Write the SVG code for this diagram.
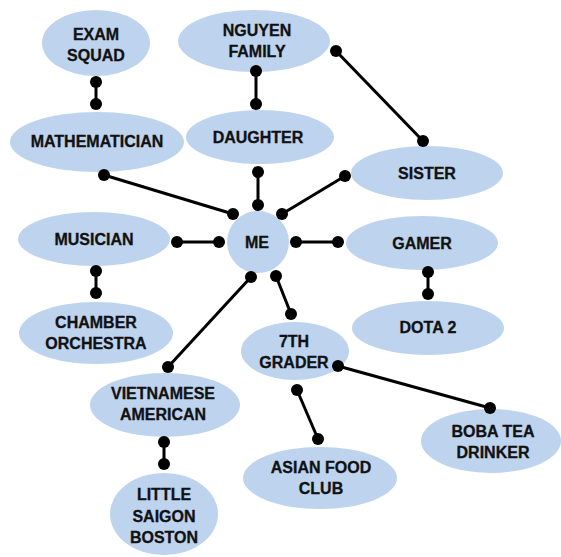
<svg xmlns="http://www.w3.org/2000/svg" width="561" height="557" viewBox="0 0 561 557">
<style>
.n{fill:#bdd3ee}
.t{font-family:"Liberation Sans",Arial,sans-serif;font-weight:bold;font-size:16px;fill:#111;stroke:#111;stroke-width:0.3;text-anchor:middle;dominant-baseline:central}
.c line{stroke:#000;stroke-width:3}
.c circle{fill:#000}
</style>
<rect width="561" height="557" fill="#fff"/>
<g id="exam-squad"><ellipse class="n" cx="96" cy="43" rx="54" ry="33"/><text class="t" x="96" y="34">EXAM</text><text class="t" x="96" y="55">SQUAD</text></g>
<g id="nguyen-family"><ellipse class="n" cx="254" cy="41" rx="76" ry="31"/><text class="t" x="257" y="30">NGUYEN</text><text class="t" x="257" y="51">FAMILY</text></g>
<g id="mathematician"><ellipse class="n" cx="97" cy="142" rx="87" ry="30"/><text class="t" x="97" y="141">MATHEMATICIAN</text></g>
<g id="daughter"><ellipse class="n" cx="260" cy="137" rx="74" ry="27"/><text class="t" x="258" y="137">DAUGHTER</text></g>
<g id="sister"><ellipse class="n" cx="427" cy="173" rx="76" ry="27"/><text class="t" x="427" y="173">SISTER</text></g>
<g id="me"><circle class="n" cx="258" cy="242" r="31"/><text class="t" x="257" y="242">ME</text></g>
<g id="musician"><ellipse class="n" cx="94" cy="239" rx="76" ry="27"/><text class="t" x="94" y="239">MUSICIAN</text></g>
<g id="chamber-orchestra"><ellipse class="n" cx="96" cy="333" rx="77" ry="31"/><text class="t" x="96" y="322">CHAMBER</text><text class="t" x="96" y="343">ORCHESTRA</text></g>
<g id="gamer"><ellipse class="n" cx="422" cy="243" rx="76" ry="27"/><text class="t" x="422" y="243">GAMER</text></g>
<g id="dota-2"><ellipse class="n" cx="428" cy="328" rx="76" ry="27"/><text class="t" x="428" y="327">DOTA 2</text></g>
<g id="seventh-grader"><ellipse class="n" cx="295" cy="351" rx="54" ry="29"/><text class="t" x="294" y="341">7TH</text><text class="t" x="294" y="362">GRADER</text></g>
<g id="vietnamese-american"><ellipse class="n" cx="165" cy="405" rx="75" ry="32"/><text class="t" x="163" y="393">VIETNAMESE</text><text class="t" x="163" y="414">AMERICAN</text></g>
<g id="little-saigon-boston"><ellipse class="n" cx="164" cy="514" rx="54" ry="41"/><text class="t" x="164" y="494">LITTLE</text><text class="t" x="164" y="516">SAIGON</text><text class="t" x="164" y="537">BOSTON</text></g>
<g id="asian-food-club"><ellipse class="n" cx="320" cy="478" rx="77" ry="31"/><text class="t" x="321" y="467">ASIAN FOOD</text><text class="t" x="321" y="488">CLUB</text></g>
<g id="boba-tea-drinker"><ellipse class="n" cx="491" cy="441" rx="70" ry="32"/><text class="t" x="493" y="431">BOBA TEA</text><text class="t" x="493" y="452">DRINKER</text></g>
<g id="connectors" class="c">
<line x1="96" y1="82" x2="96" y2="104"/><circle cx="96" cy="82" r="6"/><circle cx="96" cy="104" r="6"/>
<line x1="256" y1="71" x2="256" y2="104"/><circle cx="256" cy="71" r="6"/><circle cx="256" cy="104" r="6"/>
<line x1="336" y1="51" x2="423" y2="141"/><circle cx="336" cy="51" r="6"/><circle cx="423" cy="141" r="6"/>
<line x1="104" y1="175" x2="233" y2="214"/><circle cx="104" cy="175" r="6"/><circle cx="233" cy="214" r="6"/>
<line x1="258" y1="172" x2="258" y2="205"/><circle cx="258" cy="172" r="6"/><circle cx="258" cy="205" r="6"/>
<line x1="345" y1="176" x2="282" y2="214"/><circle cx="345" cy="176" r="6"/><circle cx="282" cy="214" r="6"/>
<line x1="177" y1="242" x2="219" y2="242"/><circle cx="177" cy="242" r="6"/><circle cx="219" cy="242" r="6"/>
<line x1="296" y1="242" x2="338" y2="242"/><circle cx="296" cy="242" r="6"/><circle cx="338" cy="242" r="6"/>
<line x1="96" y1="271" x2="96" y2="293"/><circle cx="96" cy="271" r="6"/><circle cx="96" cy="293" r="6"/>
<line x1="428" y1="272" x2="428" y2="294"/><circle cx="428" cy="272" r="6"/><circle cx="428" cy="294" r="6"/>
<line x1="276" y1="276" x2="291" y2="314"/><circle cx="276" cy="276" r="6"/><circle cx="291" cy="314" r="6"/>
<line x1="251" y1="277" x2="168" y2="367"/><circle cx="251" cy="277" r="6"/><circle cx="168" cy="367" r="6"/>
<line x1="338" y1="366" x2="490" y2="408"/><circle cx="338" cy="366" r="6"/><circle cx="490" cy="408" r="6"/>
<line x1="297" y1="390" x2="318" y2="439"/><circle cx="297" cy="390" r="6"/><circle cx="318" cy="439" r="6"/>
<line x1="164" y1="442" x2="164" y2="464"/><circle cx="164" cy="442" r="6"/><circle cx="164" cy="464" r="6"/>
</g>
</svg>
